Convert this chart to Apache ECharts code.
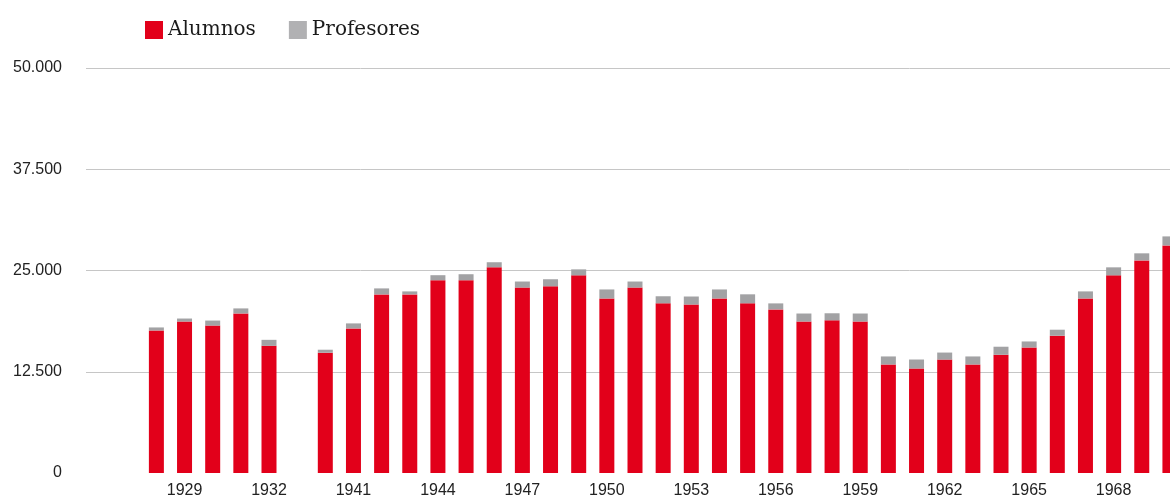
<!DOCTYPE html>
<html>
<head>
<meta charset="utf-8">
<script src="https://cdn.jsdelivr.net/npm/echarts@6/dist/echarts.min.js"></script>
<style>
  html, body { margin: 0; padding: 0; background: #fff; overflow: hidden; }
  /* the chart runs a little past the right edge of the window, as in the original */
  #chart { width: 1184px; height: 495px; }
</style>
</head>
<body>
<div id="chart"></div>
<script>
// years with no data are left as empty slots
const years = ['', '', '1928', '1929', '1930', '1931', '1932', '',
  '1940', '1941', '1942', '1943', '1944', '1945', '1946', '1947', '1948', '1949',
  '1950', '1951', '1952', '1953', '1954', '1955', '1956', '1957', '1958', '1959',
  '1960', '1961', '1962', '1963', '1964', '1965', '1966', '1967', '1968', '1969', '1970'];

const alumnos = ['-', '-', 17600, 18700, 18200, 19700, 15700, '-',
  14850, 17850, 22050, 22050, 23800, 23800, 25400, 22900, 23050, 24400,
  21550, 22900, 20950, 20800, 21550, 20950, 20200, 18700, 18850, 18700,
  13400, 12900, 14000, 13400, 14600, 15500, 16950, 21550, 24400, 26250, 28100];

const profesores = ['-', '-', 370, 370, 620, 620, 740, '-',
  370, 620, 740, 370, 620, 740, 620, 740, 870, 740,
  1110, 740, 870, 990, 1110, 1110, 740, 990, 870, 990,
  990, 1110, 870, 990, 990, 740, 740, 870, 990, 870, 1110];

const yTicks = [0, 12500, 25000, 37500, 50000];

function miles(v) {
  return String(v).replace(/\B(?=(\d{3})+(?!\d))/g, '.');
}

const chart = echarts.init(document.getElementById('chart'), null, { renderer: 'canvas' });

chart.setOption({
  animation: false,
  legend: {
    left: 140,
    top: 15,
    icon: 'rect',
    itemWidth: 18,
    itemHeight: 18,
    itemGap: 33,
    textStyle: { fontFamily: 'DejaVu Serif', fontSize: 20, color: '#1a1a1a' },
    data: [
      { name: 'Alumnos' },
      { name: 'Profesores', itemStyle: { color: '#B1B1B3' } }
    ]
  },
  grid: { left: 86, right: 0, top: 68, bottom: 22, outerBoundsMode: 'none', containLabel: false },
  xAxis: {
    type: 'category',
    data: years,
    axisLine: { show: false },
    axisTick: { show: false },
    axisLabel: {
      interval: 2,
      margin: 10,
      fontFamily: "'Liberation Sans', Arial, sans-serif",
      fontSize: 16,
      color: '#222'
    }
  },
  yAxis: {
    type: 'value',
    min: yTicks[0],
    max: yTicks[yTicks.length - 1],
    interval: yTicks[1] - yTicks[0],
    axisLine: { show: false },
    axisTick: { show: false },
    splitLine: { showMinLine: false, lineStyle: { color: '#C6C6C6', width: 1 } },
    axisLabel: {
      margin: 24,
      fontFamily: "'Liberation Sans', Arial, sans-serif",
      fontSize: 16,
      color: '#222',
      formatter: miles
    }
  },
  series: [
    {
      name: 'Alumnos',
      type: 'bar',
      stack: 'total',
      barWidth: 15,
      data: alumnos,
      itemStyle: { color: '#E2001A' }
    },
    {
      name: 'Profesores',
      type: 'bar',
      stack: 'total',
      barWidth: 15,
      data: profesores,
      itemStyle: { color: '#A2A2A4' }
    }
  ]
});
</script>
</body>
</html>
